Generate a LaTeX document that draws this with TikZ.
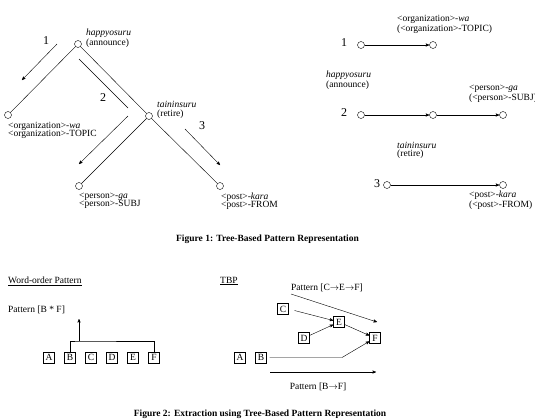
\documentclass[tikz,border=0pt]{standalone}
\usepackage{fontspec}
\setmainfont{Liberation Serif}
\usetikzlibrary{arrows}

\begin{document}
\begin{tikzpicture}[x=1pt, y=-1pt, >=stealth', line width=0.4pt, node distance=21pt,
    font=\fontsize{9.5}{8.5}\selectfont,
    vertex/.style={circle, draw, inner sep=0pt, minimum size=7pt},
    wordbox/.style={draw, inner sep=0pt, minimum width=11pt, minimum height=11pt},
    lbl/.style={align=left, inner sep=0pt, anchor=west},
    num/.style={inner sep=0pt, font=\fontsize{12}{14}\selectfont},
    caption/.style={inner sep=0pt, font=\fontsize{9.5}{11}\selectfont\bfseries}]
    \useasboundingbox (0,0) rectangle (535,418);

    % Figure 1, tree {hap, org, tai, per, pos}
    \node [vertex] (hap) at (78,44)   {};
    \node [vertex] (org) at (8,115)   {};
    \node [vertex] (tai) at (149,116) {};
    \node [vertex] (per) at (79,186)  {};
    \node [vertex] (pos) at (220,186) {};

    \node [lbl] (haplbl) at (86,38.5)  {\textit{happyosuru}\\(announce)};
    \node [lbl] (orglbl) at (8,130.5)  {<organization>-\textit{wa}\\<organization>-TOPIC};
    \node [lbl] (tailbl) at (157,110)  {\textit{taininsuru}\\(retire)};
    \node [lbl] (perlbl) at (79,201)   {<person>-\textit{ga}\\<person>-SUBJ};
    \node [lbl] (poslbl) at (221,201)  {<post>-\textit{kara}\\<post>-FROM};

    \path (hap) edge (org);
    \path (hap) edge (tai);
    \path (tai) edge (per);
    \path (tai) edge (pos);

    % Paths 1, 2, 3 along the tree
    \node [num] (p1) at (46,41)  {1};
    \node [num] (p2) at (103,98) {2};
    \node [num] (p3) at (202,126) {3};
    \coordinate (p1a) at (57,44);
    \coordinate (p1b) at (22,80);
    \coordinate (p2a) at (79,59);
    \coordinate (p2b) at (128,108);
    \coordinate (p2c) at (128,116);
    \coordinate (p2d) at (79,164);
    \coordinate (p3a) at (185,129);
    \coordinate (p3b) at (220,165);
    \draw [->] (p1a) -- (p1b);
    \draw      (p2a) -- (p2b);
    \draw [->] (p2c) -- (p2d);
    \draw [->] (p3a) -- (p3b);

    % Figure 1, the three paths
    \node [num] (r1) at (344,43)  {1};
    \node [num] (r2) at (344,113) {2};
    \node [num] (r3) at (377,184) {3};
    \node [vertex] (r1a) at (361,45)  {};
    \node [vertex] (r1b) at (433,45)  {};
    \node [vertex] (r2a) at (361,115) {};
    \node [vertex] (r2b) at (433,115) {};
    \node [vertex] (r2c) at (503,115) {};
    \node [vertex] (r3a) at (387,185) {};
    \node [vertex] (r3b) at (503,185) {};

    \node [lbl] at (397,24.5)  {<organization>-\textit{wa}\\(<organization>-TOPIC)};
    \node [lbl] at (326,80.5)  {\textit{happyosuru}\\(announce)};
    \node [lbl] at (469,93.5)  {<person>-\textit{ga}\\(<person>-SUBJ)};
    \node [lbl] at (397,150.5) {\textit{taininsuru}\\(retire)};
    \node [lbl] at (469,200)   {<post>-\textit{kara}\\(<post>-FROM)};

    \path [->] (r1a) edge (r1b);
    \path [->] (r2a) edge (r2b);
    \path [->] (r2b) edge (r2c);
    \path [->] (r3a) edge (r3b);

    \node [caption] (cap1) at (267.5,239) {Figure 1: Tree-Based Pattern Representation};

    % Figure 2, word order
    \node [lbl] (wotitle) at (8,281) {\underline{Word-order Pattern}};
    \node [lbl] (wopat)   at (8,310) {Pattern [B * F]};
    \node [wordbox] (wa) at (49,357.5) {A};
    \node [wordbox] (wb) [right of=wa] {B};
    \node [wordbox] (wc) [right of=wb] {C};
    \node [wordbox] (wd) [right of=wc] {D};
    \node [wordbox] (we) [right of=wd] {E};
    \node [wordbox] (wf) [right of=we] {F};
    \coordinate (wtop) at (79,341);
    \draw (wb.north) |- (wtop) -| (wf.north);
    \draw [->] (wtop) -- ++(0,-22);

    % Figure 2, TBP
    \node [lbl] (tbptitle) at (220,281) {\underline{TBP}};
    \node [lbl] (cefpat)   at (291,288) {Pattern [C$\rightarrow$E$\rightarrow$F]};
    \node [wordbox] (ta) at (240,357.5) {A};
    \node [wordbox] (tb) [right of=ta]  {B};
    \node [wordbox] (tc) at (283,309)   {C};
    \node [wordbox] (td) at (304,338)   {D};
    \node [wordbox] (te) at (339,322)   {E};
    \node [wordbox] (tf) at (375,338)   {F};
    \coordinate (cefa) at (291,294);
    \coordinate (cefb) at (377,322);
    \coordinate (bend) at (342,357.5);
    \coordinate (bfa)  at (270,372);
    \coordinate (bfb)  at (376,372);

    \draw [->] (cefa) -- (cefb);
    \draw [->, shorten <=6pt] (tc.east) -- (te);
    \draw [->] (td) -- (te);
    \draw [->] (te) -- (tf);
    \draw [->, shorten <=3pt] (tb.east) -- (bend) -- (tf);
    \draw [->] (bfa) -- (bfb);
    \node [inner sep=0pt] (bfpat) at (318,387) {Pattern [B$\rightarrow$F]};

    \node [caption] (cap2) at (260,414) {Figure 2: Extraction using Tree-Based Pattern Representation};
\end{tikzpicture}
\end{document}
